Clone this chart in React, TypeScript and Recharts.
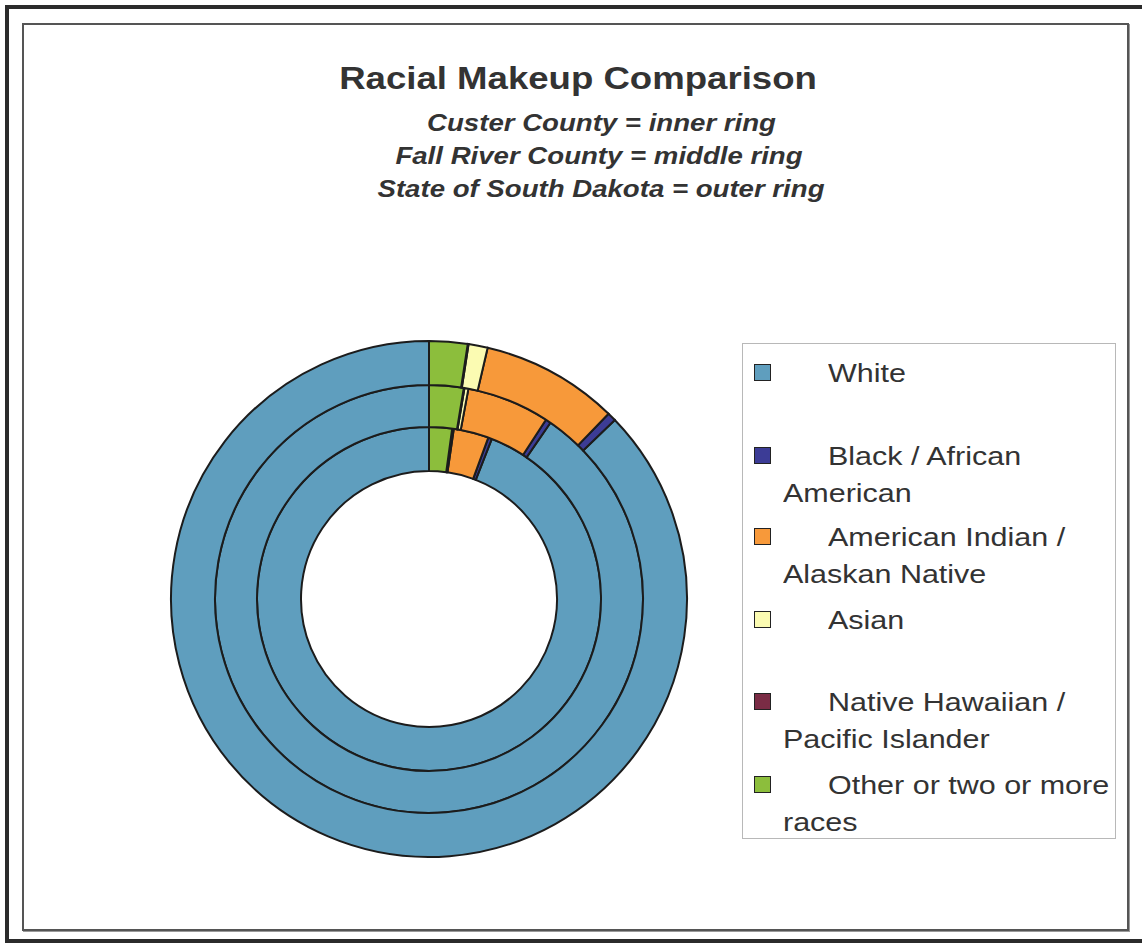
import React from "react";
import { PieChart, Pie, Cell, Legend } from "recharts";

// Race categories, in the order of the legend
const categories = [
  "White",
  "Black / African American",
  "American Indian / Alaskan Native",
  "Asian",
  "Native Hawaiian / Pacific Islander",
  "Other or two or more races",
];

// legend text, broken the way the original wraps it
const legendLines = [
  ["White", ""],
  ["Black / African", "American"],
  ["American Indian /", "Alaskan Native"],
  ["Asian", ""],
  ["Native Hawaiian /", "Pacific Islander"],
  ["Other or two or more", "races"],
];

// percent of population
const custerValues = [94.05, 0.35, 3.3, 0.1, 0.05, 2.15];
const fallRiverValues = [90.4, 0.4, 6.25, 0.3, 0.05, 2.6];
const southDakotaValues = [87.2, 0.55, 8.6, 1.2, 0.05, 2.4];

const COLORS = ["#5f9ebe", "#3c3c96", "#f7993a", "#fbfbb2", "#7a2c45", "#8cbe3c"];

const FONT = '"Liberation Sans", Arial, sans-serif';

const toRows = (values: number[]) =>
  categories.map((name, i) => ({ name, value: values[i] }));

const custerData = toRows(custerValues);
const fallRiverData = toRows(fallRiverValues);
const southDakotaData = toRows(southDakotaValues);

// pie centre (recharts adds its 5px default margin on top of these)
const CX = 424;
const CY = 594;

function Line({
  text,
  top,
  left,
  width,
  size,
  weight,
  italic,
  align,
  stretch = 1.15,
}: {
  text: string;
  top: number;
  left: number;
  width: number;
  size: number;
  weight?: string;
  italic?: boolean;
  align: "left" | "center";
  stretch?: number;
}) {
  return (
    <div
      style={{
        position: "absolute",
        top,
        left,
        width,
        textAlign: align,
        whiteSpace: "nowrap",
        fontFamily: FONT,
        fontSize: size,
        lineHeight: `${size}px`,
        fontWeight: weight ?? "normal",
        fontStyle: italic ? "italic" : "normal",
        color: "#333",
        transform: `scaleX(${stretch})`,
        transformOrigin: align === "left" ? "left center" : "center center",
      }}
    >
      {text}
    </div>
  );
}

function RaceLegend() {
  const size = 26.5;
  const firstBaselines = [381, 464, 545, 628, 710, 793];
  return (
    <div
      style={{
        position: "relative",
        width: 374,
        height: 496,
        border: "1px solid #b8b8b8",
        background: "#fff",
        boxSizing: "border-box",
      }}
    >
      {legendLines.map((lines, i) => {
        const base = firstBaselines[i] - 343;
        return (
          <React.Fragment key={categories[i]}>
            <div
              style={{
                position: "absolute",
                left: 11,
                top: base - 18,
                width: 15,
                height: 15,
                background: COLORS[i],
                border: "1.5px solid #222",
              }}
            />
            <Line text={lines[0]} top={base - 22} left={85} width={300} size={size} align="left" />
            {lines[1] && (
              <Line text={lines[1]} top={base + 37 - 22} left={40} width={300} size={size} align="left" />
            )}
          </React.Fragment>
        );
      })}
    </div>
  );
}

export default function App() {
  const ringProps = {
    cx: CX,
    cy: CY,
    dataKey: "value",
    startAngle: 90,
    endAngle: 450,
    stroke: "#1c1c1c",
    strokeWidth: 2,
    isAnimationActive: false,
  };

  return (
    <div
      style={{
        position: "fixed",
        left: 0,
        top: 0,
        width: 1142,
        height: 945,
        overflow: "hidden",
        background: "#fff",
      }}
    >
      {/* outer and inner frames */}
      <div
        style={{
          position: "absolute",
          left: 5,
          top: 5,
          width: 1150,
          height: 938,
          border: "4px solid #2b2b2b",
          boxSizing: "border-box",
        }}
      />
      <div
        style={{
          position: "absolute",
          left: 22,
          top: 23,
          width: 1107,
          height: 908,
          border: "2px solid #555",
          boxShadow: "1px 1px 0 #9a9a9a",
          boxSizing: "border-box",
        }}
      />

      <Line text="Racial Makeup Comparison" top={63} left={0} width={1156} size={31} weight="bold" align="center" stretch={1.18} />
      <Line text="Custer County = inner ring" top={111} left={0} width={1203} size={24} weight="bold" italic align="center" />
      <Line text="Fall River County = middle ring" top={144} left={0} width={1198} size={24} weight="bold" italic align="center" />
      <Line text="State of South Dakota = outer ring" top={177} left={0} width={1202} size={24} weight="bold" italic align="center" />

      <div style={{ position: "absolute", left: 0, top: 0 }}>
        <PieChart width={1142} height={945}>
          <Pie data={custerData} innerRadius={128} outerRadius={172} {...ringProps}>
            {custerData.map((d, i) => (
              <Cell key={d.name} fill={COLORS[i]} />
            ))}
          </Pie>
          <Pie data={fallRiverData} innerRadius={172} outerRadius={214} {...ringProps}>
            {fallRiverData.map((d, i) => (
              <Cell key={d.name} fill={COLORS[i]} />
            ))}
          </Pie>
          <Pie data={southDakotaData} innerRadius={214} outerRadius={258} {...ringProps}>
            {southDakotaData.map((d, i) => (
              <Cell key={d.name} fill={COLORS[i]} />
            ))}
          </Pie>
          <Legend
            content={() => <RaceLegend />}
            wrapperStyle={{ position: "absolute", left: 742, top: 343, width: 374, height: 496 }}
          />
        </PieChart>
      </div>
    </div>
  );
}
